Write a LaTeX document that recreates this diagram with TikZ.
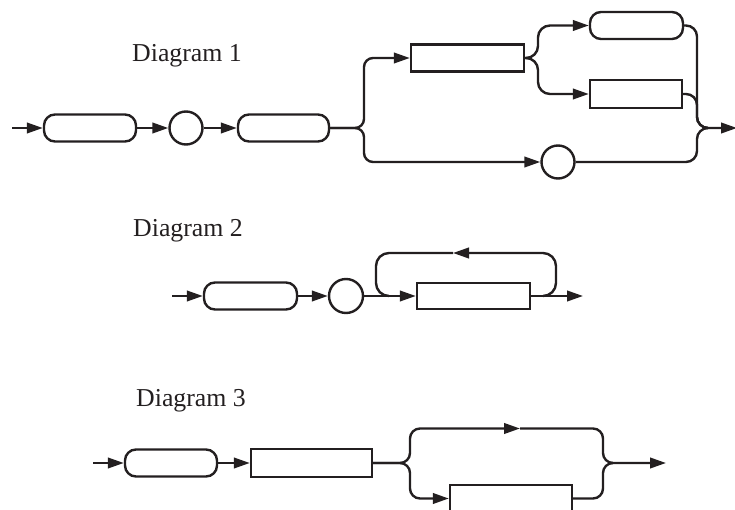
\documentclass[tikz,border=0pt]{standalone}
\usepackage{fontspec}
\setmainfont{Liberation Serif}
\usetikzlibrary{arrows.meta}
\definecolor{ink}{RGB}{35,31,32}
\tikzset{
  base/.style={draw=ink, line width=2.4pt, inner sep=0pt},
  term/.style={base, rectangle, rounded corners=11pt, minimum height=27pt},
  boxnode/.style={base, rectangle, minimum height=27pt},
  circnode/.style={base, circle, minimum size=33pt},
  wire/.style={draw=ink, line width=2.4pt},
  arr/.style={wire, -{Triangle[length=16pt,width=10.5pt]}},
  lbl/.style={inner sep=0pt, anchor=base west, text=ink, font=\fontsize{25.8}{30}\selectfont}
}
\begin{document}
\begin{tikzpicture}[x=1pt, y=-1pt]
\useasboundingbox (0,0) rectangle (735,510);
\clip (0,0) rectangle (735,510);

% ---------- Diagram 1 ----------
\node[lbl] (d1) at (132,62) {Diagram 1};
\coordinate (s1) at (12,128);
\node[term, minimum width=92pt] (t1) at (90,128) {};
\node[circnode] (c1) at (186,128) {};
\node[term, minimum width=91pt] (t2) at (283.5,128) {};
\node[boxnode, minimum width=113pt] (a1) at (467.5,58) {};
\node[term, minimum width=93pt] (t3) at (636.5,25.5) {};
\node[boxnode, minimum width=92pt, minimum height=28pt] (b1) at (636,94) {};
\node[circnode] (c2) at (558,162) {};
\coordinate (k1) at (364,128);
\coordinate (k2) at (538,58);
\coordinate (k3) at (697,128);
\coordinate (m1) at (708,128);
\coordinate (e1) at (737,128);

\draw[arr] (s1) -- (t1);
\draw[arr] (t1) -- (c1);
\draw[arr] (c1) -- (t2);
\draw[arr, rounded corners=9pt] (t2.east) -- (k1) |- (a1.west);
\draw[arr, rounded corners=9pt] (t2.east) -- (k1) |- (c2.west);
\draw[arr, rounded corners=12pt] (a1.east) -- (k2) |- (t3.west);
\draw[arr, rounded corners=12pt] (a1.east) -- (k2) |- (b1.west);
\draw[arr, rounded corners=11pt] (t3.east) -| (k3) -- (e1);
\draw[wire, rounded corners=11pt] (b1.east) -| (k3) -- (m1);
\draw[wire, rounded corners=11pt] (c2.east) -| (k3) -- (m1);

% ---------- Diagram 2 ----------
\node[lbl] (d2) at (133,237) {Diagram 2};
\coordinate (s2) at (172,296);
\node[term, minimum width=93pt] (t4) at (250.5,296) {};
\node[circnode, minimum size=34pt] (c3) at (346,296) {};
\node[boxnode, minimum width=113pt, minimum height=26pt] (r2) at (473.5,296) {};
\coordinate (e2) at (583,296);
\coordinate (l1) at (543,296);
\coordinate (l2) at (556,253);
\coordinate (lm) at (453,253);
\coordinate (l3) at (376,253);
\coordinate (l4) at (389,296);

\draw[arr] (s2) -- (t4);
\draw[arr] (t4) -- (c3);
\draw[arr] (c3) -- (r2);
\draw[arr] (r2) -- (e2);
\draw[arr, rounded corners=13pt] (l1) -| (l2) -- (lm);
\draw[wire, rounded corners=13pt] (lm) -- (l3) |- (l4);

% ---------- Diagram 3 ----------
\node[lbl] (d3) at (136,406) {Diagram 3};
\coordinate (s3) at (93,463);
\node[term, minimum width=92pt] (t5) at (171,463) {};
\node[boxnode, minimum width=121pt, minimum height=28pt] (r3) at (311.5,463) {};
\node[boxnode, minimum width=122pt] (r4) at (511,498.5) {};
\coordinate (k4) at (410,463);
\coordinate (tm) at (520,428.5);
\coordinate (k5) at (603,463);
\coordinate (m3) at (612,463);
\coordinate (e3) at (666,463);

\draw[arr] (s3) -- (t5);
\draw[arr] (t5) -- (r3);
\draw[arr, rounded corners=10pt] (r3.east) -- (k4) |- (tm);
\draw[arr, rounded corners=10pt] (tm) -| (k5) -- (e3);
\draw[arr, rounded corners=10pt] (r3.east) -- (k4) |- (r4.west);
\draw[wire, rounded corners=10pt] (r4.east) -| (k5) -- (m3);
\end{tikzpicture}
\end{document}
